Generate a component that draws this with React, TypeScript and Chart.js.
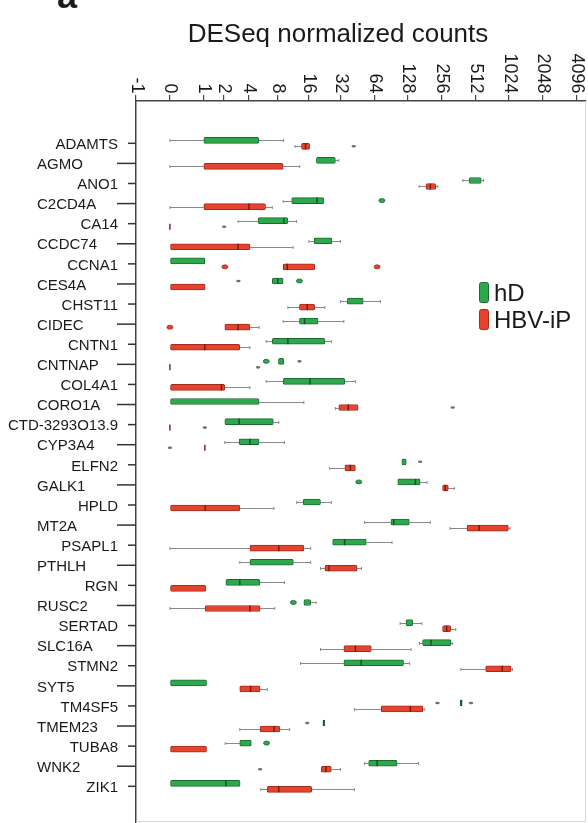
import React, { useEffect, useRef } from 'react';
import { Chart, registerables } from 'chart.js';

Chart.register(...registerables);

// Gene categories (one row per gene, top to bottom)
const genes = [
  'ADAMTS', 'AGMO', 'ANO1', 'C2CD4A', 'CA14', 'CCDC74', 'CCNA1', 'CES4A', 'CHST11', 'CIDEC',
  'CNTN1', 'CNTNAP', 'COL4A1', 'CORO1A', 'CTD-3293O13.9', 'CYP3A4', 'ELFN2', 'GALK1', 'HPLD', 'MT2A',
  'PSAPL1', 'PTHLH', 'RGN', 'RUSC2', 'SERTAD', 'SLC16A', 'STMN2', 'SYT5', 'TM4SF5', 'TMEM23',
  'TUBA8', 'WNK2', 'ZIK1',
];

// Tick labels of the count axis (DESeq normalized counts)
const countTicks = [-1, 0, 1, 2, 4, 8, 16, 32, 64, 128, 256, 512, 1024, 2048, 4096];

// All values below are on the axis scale: log2(count + 1)
// hD series
const hdLow = [0, null, 8.64, 3.34, 2.01, 4.1, null, null, 5.03, 3.34, 2.84, null, 2.84, null, null, 1.62, null, null, 3.74, 5.74, null, 2.06, null, null, 6.79, 7.36, 3.85, null, null, null, 1.63, 5.74, null];
const hdQ1 = [1.0, 4.32, 8.82, 3.59, 2.6, 4.25, 0, 3.02, 5.23, 3.82, 3.02, 3.2, 3.34, 0, 1.62, 2.04, 6.84, 6.72, 3.93, 6.52, 4.8, 2.36, 1.65, 3.95, 6.96, 7.45, 5.13, 0, 8.56, 4.51, 2.06, 5.86, 0];
const hdMed = [null, null, null, 4.34, 3.36, null, null, 3.18, null, 3.97, 3.48, null, 4.13, null, 2.04, 2.36, null, 7.24, null, 6.6, 5.15, null, 2.06, null, null, 7.7, 5.64, null, 8.59, 4.54, null, 6.11, 1.65];
const hdQ3 = [2.62, 4.88, 9.18, 4.54, 3.48, 4.78, 1.03, 3.34, 5.7, 4.37, 4.57, 3.36, 5.16, 2.63, 3.05, 2.63, 6.97, 7.38, 4.44, 7.06, 5.79, 3.64, 2.65, 4.15, 7.16, 8.29, 6.89, 1.08, 8.62, 4.57, 2.4, 6.7, 2.07];
const hdHigh = [3.35, 4.98, 9.25, null, 3.73, 5.03, null, null, 6.21, 5.13, 4.76, null, 5.47, 3.95, 3.21, 3.38, null, 7.58, 4.76, 7.68, 6.55, 4.15, 3.38, 4.31, 7.43, 8.33, 7.07, null, null, null, null, 7.33, null];
const hdOutliers = [[], [], [], [6.25], [], [], [], [3.82], [], [], [], [2.84], [], [], [], [], [], [5.57], [], [], [], [], [], [3.64], [], [], [], [], [], [], [2.85], [], []];
const hdSmall = [[], [], [], [], [], [], [], [2.02], [], [], [], [3.82], [], [], [], [], [7.38], [], [], [], [], [], [], [], [], [], [], [], [7.89, 8.88], [4.05], [], [], []];

// HBV-iP series
const ipLow = [3.69, 0, 7.35, 0, null, null, null, null, 3.48, null, null, null, null, 4.88, null, null, 4.71, null, null, 8.26, 0, 4.44, null, 0, null, 4.44, 8.58, null, 5.44, 2.06, null, null, 2.68];
const ipQ1 = [3.88, 1.0, 7.55, 1.0, 0, 0, 3.34, 0, 3.82, 1.62, 0, 0, 0, 4.98, 0, 1.03, 5.16, 8.04, 0, 8.76, 2.36, 4.57, 0, 1.04, 8.04, 5.13, 9.31, 2.06, 6.23, 2.66, 0, 4.46, 2.87];
const ipMed = [4.0, null, 7.68, 2.33, 0, 2.01, 3.46, null, 4.05, 2.01, 1.03, 0, 1.52, 5.26, 0, 1.03, 5.32, 8.12, 1.04, 9.12, 3.21, 4.69, null, 2.36, 8.16, 5.47, 9.8, 2.38, 7.09, 3.07, null, 4.6, 3.21];
const ipQ3 = [4.12, 3.34, 7.84, 2.82, 0, 2.36, 4.27, 1.04, 4.27, 2.36, 2.06, 0, 1.62, 5.55, 0, 1.03, 5.47, 8.21, 2.06, 9.98, 3.95, 5.52, 1.06, 2.66, 8.28, 5.94, 10.06, 2.66, 7.46, 3.24, 1.08, 4.76, 4.18];
const ipHigh = [null, 3.83, 7.9, 3.02, null, 3.63, null, null, 4.57, 2.63, 2.36, null, 2.36, null, null, null, null, 8.39, 3.07, 10.03, 4.15, 5.65, null, 3.09, 8.43, 7.11, 10.1, 2.87, 7.5, 3.53, null, 5.03, 5.44];
const ipOutliers = [[], [], [], [], [], [], [1.62, 6.11], [], [], [0], [], [], [], [], [], [], [], [], [], [], [], [], [], [], [], [], [], [], [], [], [], [], []];
const ipSmall = [[5.42], [], [], [], [1.6], [], [], [], [], [], [], [2.6], [], [8.34], [1.03], [0], [], [], [], [], [], [], [], [], [], [], [], [], [], [], [], [2.66], []];

const seriesNames = ['hD', 'HBV-iP'];

const toAxis = (c: number) => (c < 0 ? -1 : Math.log2(c + 1));

const FONT = '"Liberation Sans", Arial, Helvetica, sans-serif';

const styles = [
  { fill: '#2ea84c', edge: '#1c6a31', med: '#174d24' },
  { fill: '#e6432f', edge: '#a32c1d', med: '#6e1b10' },
];

const series = [
  { name: seriesNames[0], low: hdLow, q1: hdQ1, med: hdMed, q3: hdQ3, high: hdHigh, out: hdOutliers, small: hdSmall },
  { name: seriesNames[1], low: ipLow, q1: ipQ1, med: ipMed, q3: ipQ3, high: ipHigh, out: ipOutliers, small: ipSmall },
];

const boxPlugin = {
  id: 'boxExtras',
  beforeDatasetsDraw(chart: any) {
    const ctx = chart.ctx;
    const xs = chart.scales.x;
    ctx.save();
    ctx.strokeStyle = '#8a8a8a';
    ctx.lineWidth = 1;
    series.forEach((s, i) => {
      const meta = chart.getDatasetMeta(i);
      genes.forEach((_, j) => {
        const el = meta.data[j];
        if (!el) return;
        const y = Math.round(el.y) + 0.5;
        const seg = (a: number | null, b: number) => {
          if (a === null) return;
          const xa = xs.getPixelForValue(a);
          const xb = xs.getPixelForValue(b);
          ctx.beginPath();
          ctx.moveTo(xa, y);
          ctx.lineTo(xb, y);
          ctx.moveTo(xa, y - 1.5);
          ctx.lineTo(xa, y + 1.5);
          ctx.stroke();
        };
        seg(s.low[j], s.q1[j]);
        seg(s.high[j], s.q3[j]);
      });
    });
    ctx.restore();
  },
  afterDatasetsDraw(chart: any) {
    const ctx = chart.ctx;
    const xs = chart.scales.x;
    ctx.save();
    series.forEach((s, i) => {
      const meta = chart.getDatasetMeta(i);
      const st = styles[i];
      genes.forEach((_, j) => {
        const el = meta.data[j];
        if (!el) return;
        const y = el.y;
        const h = 6;
        const m = s.med[j];
        if (m !== null) {
          const xm = xs.getPixelForValue(m);
          ctx.strokeStyle = st.med;
          ctx.lineWidth = 1.4;
          ctx.beginPath();
          ctx.moveTo(xm, y - h / 2);
          ctx.lineTo(xm, y + h / 2);
          ctx.stroke();
        }
        s.out[j].forEach((v) => {
          const xo = xs.getPixelForValue(v);
          ctx.fillStyle = st.fill;
          ctx.strokeStyle = st.edge;
          ctx.lineWidth = 0.8;
          ctx.beginPath();
          ctx.ellipse(xo, y, 3, 2, 0, 0, Math.PI * 2);
          ctx.fill();
          ctx.stroke();
        });
        s.small[j].forEach((v) => {
          const xo = xs.getPixelForValue(v);
          ctx.fillStyle = '#6f6f6f';
          ctx.beginPath();
          ctx.ellipse(xo, y, 2.2, 1.3, 0, 0, Math.PI * 2);
          ctx.fill();
        });
      });
    });
    ctx.restore();
  },
  afterDraw(chart: any) {
    const ctx = chart.ctx;
    const xs = chart.scales.x;
    const ys = chart.scales.y;
    const area = chart.chartArea;
    ctx.save();

    // right and bottom frame
    ctx.strokeStyle = '#d6d6d6';
    ctx.lineWidth = 1;
    ctx.beginPath();
    ctx.moveTo(area.right - 0.5, area.top);
    ctx.lineTo(area.right - 0.5, area.bottom - 0.5);
    ctx.lineTo(area.left, area.bottom - 0.5);
    ctx.stroke();

    // top axis tick labels, rotated clockwise
    ctx.fillStyle = '#1a1a1a';
    ctx.font = `18px ${FONT}`;
    countTicks.forEach((c) => {
      const px = xs.getPixelForValue(toAxis(c));
      ctx.save();
      ctx.translate(px, area.top - 7.5);
      ctx.rotate(Math.PI / 2);
      ctx.textAlign = 'right';
      ctx.textBaseline = 'alphabetic';
      ctx.fillText(String(c), 0, 4.5);
      ctx.restore();
    });

    // gene labels and ticks (alternating layout)
    ctx.font = `15px ${FONT}`;
    ctx.strokeStyle = '#333';
    ctx.lineWidth = 1.5;
    genes.forEach((g, j) => {
      const y = ys.getPixelForValue(j);
      const odd = j % 2 === 1;
      ctx.beginPath();
      ctx.moveTo(area.left - (odd ? 19 : 8), y);
      ctx.lineTo(area.left, y);
      ctx.stroke();
      ctx.textBaseline = 'alphabetic';
      if (odd) {
        ctx.textAlign = 'left';
        ctx.fillText(g, 37, y + 5.7);
      } else {
        ctx.textAlign = 'right';
        ctx.fillText(g, 118, y + 5.7);
      }
    });

    // title
    ctx.font = `26px ${FONT}`;
    ctx.textAlign = 'center';
    ctx.textBaseline = 'alphabetic';
    ctx.fillText('DESeq normalized counts', 338, 42);

    // panel letter (cut off at the top)
    ctx.font = `bold 36px ${FONT}`;
    ctx.textAlign = 'left';
    ctx.fillText('a', 57, 8);

    // legend
    const legendY = [282, 309];
    series.forEach((s, i) => {
      const st = styles[i];
      const top = legendY[i];
      ctx.fillStyle = st.fill;
      ctx.strokeStyle = st.edge;
      ctx.lineWidth = 1;
      ctx.beginPath();
      (ctx as any).roundRect(479.5, top + 0.5, 9, 20, 2);
      ctx.fill();
      ctx.stroke();
      ctx.fillStyle = '#1a1a1a';
      ctx.font = `24px ${FONT}`;
      ctx.textAlign = 'left';
      ctx.textBaseline = 'alphabetic';
      ctx.fillText(s.name, 494, top + 19);
    });

    ctx.restore();
  },
};

export default function App() {
  const ref = useRef<HTMLCanvasElement>(null);
  useEffect(() => {
    document.body.style.margin = '0';
    const canvas = ref.current;
    if (!canvas) return;
    const chart = new Chart(canvas, {
      type: 'bar',
      data: {
        datasets: series.map((s, i) => ({
          label: s.name,
          data: genes.map((_, j) => ({ y: j, x: [s.q1[j], s.q3[j]] })),
          backgroundColor: styles[i].fill,
          borderColor: styles[i].edge,
          borderWidth: 1,
          borderSkipped: false,
          borderRadius: 1.5,
          barThickness: 6,
        })) as any,
      },
      options: {
        indexAxis: 'y',
        responsive: false,
        animation: false,
        layout: { padding: { left: 136, top: 101, right: 2, bottom: 1 } },
        plugins: { legend: { display: false }, tooltip: { enabled: false } },
        scales: {
          x: {
            type: 'linear',
            position: 'top',
            min: -1,
            max: 12.27,
            bounds: 'data',
            offset: false,
            afterBuildTicks: (sc: any) => {
              sc.ticks = countTicks.map((c) => ({ value: toAxis(c) }));
            },
            afterFit: (sc: any) => {
              sc.height = 0;
            },
            ticks: { display: false },
            grid: { drawOnChartArea: false, drawTicks: true, tickLength: 6, color: '#444', lineWidth: 1.2, offset: false },
            border: { display: true, color: '#444', width: 1.5 },
          },
          y: {
            type: 'linear',
            reverse: true,
            min: -2.105,
            max: 33.776,
            bounds: 'data',
            offset: false,
            afterFit: (sc: any) => {
              sc.width = 0;
            },
            ticks: { display: false },
            grid: { display: false, offset: false },
            border: { display: true, color: '#444', width: 1.5 },
          },
        },
      } as any,
      plugins: [boxPlugin],
    });
    return () => chart.destroy();
  }, []);
  return <canvas ref={ref} width={588} height={823} style={{ display: 'block' }} />;
}
